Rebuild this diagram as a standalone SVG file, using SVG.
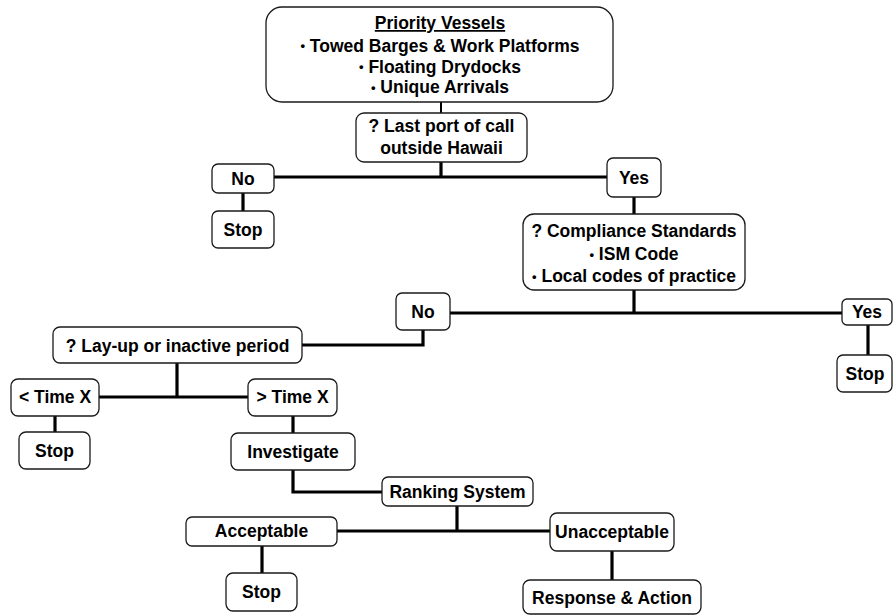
<svg xmlns="http://www.w3.org/2000/svg" width="894" height="615" viewBox="0 0 894 615">
<style>
.n{fill:#fff;stroke:#1a1a1a;stroke-width:1.3}
.t{font-family:"Liberation Sans",Arial,sans-serif;font-weight:bold;font-size:17.5px;fill:#000;text-anchor:middle}
.b{font-size:13px}
.c{fill:none;stroke:#000;stroke-width:3.2}
</style>
<rect width="894" height="615" fill="#fff"/>
<g id="connectors">
<line x1="441" y1="102" x2="441" y2="113" class="c" style="stroke-width:2"/>
<polyline class="c" points="441,162 441,177"/>
<line class="c" x1="274" y1="177" x2="607" y2="177"/>
<line class="c" x1="243" y1="193" x2="243" y2="211"/>
<line class="c" x1="634" y1="197" x2="634" y2="214"/>
<line class="c" x1="634" y1="290" x2="634" y2="313"/>
<line class="c" x1="450" y1="313" x2="842" y2="313"/>
<line class="c" x1="868" y1="325" x2="868" y2="355"/>
<polyline class="c" points="423,330 423,345 302,345"/>
<line class="c" x1="177" y1="363" x2="177" y2="397"/>
<line class="c" x1="99" y1="397" x2="248" y2="397"/>
<line class="c" x1="55" y1="416" x2="55" y2="432"/>
<line class="c" x1="293" y1="416" x2="293" y2="433"/>
<polyline class="c" points="293,470 293,492 382,492"/>
<line class="c" x1="457" y1="506" x2="457" y2="531"/>
<line class="c" x1="337" y1="531" x2="550" y2="531"/>
<line class="c" x1="262" y1="546" x2="262" y2="573"/>
<line class="c" x1="612" y1="551" x2="612" y2="580"/>
</g>
<g id="priority">
<rect class="n" x="266" y="7" width="347" height="95" rx="16"/>
<text class="t" x="440" y="29" text-decoration="underline">Priority Vessels</text>
<text class="t" x="440" y="51.5"><tspan class="b" dy="-1.5">•</tspan><tspan dy="1.5"> Towed Barges &amp; Work Platforms</tspan></text>
<text class="t" x="440" y="72.5"><tspan class="b" dy="-1.5">•</tspan><tspan dy="1.5"> Floating Drydocks</tspan></text>
<text class="t" x="440" y="93"><tspan class="b" dy="-1.5">•</tspan><tspan dy="1.5"> Unique Arrivals</tspan></text>
</g>
<g id="q-lastport">
<rect class="n" x="356" y="113" width="171" height="49" rx="8"/>
<text class="t" x="441.5" y="132">? Last port of call</text>
<text class="t" x="441.5" y="154">outside Hawaii</text>
</g>
<g id="no1">
<rect class="n" x="212" y="164" width="62" height="29" rx="6"/>
<text class="t" x="243" y="185">No</text>
</g>
<g id="stop1">
<rect class="n" x="212" y="211" width="62" height="37" rx="6"/>
<text class="t" x="243" y="236">Stop</text>
</g>
<g id="yes1">
<rect class="n" x="607" y="158" width="54" height="39" rx="6"/>
<text class="t" x="634" y="184">Yes</text>
</g>
<g id="q-compliance">
<rect class="n" x="523" y="214" width="222" height="76" rx="11"/>
<text class="t" x="634" y="237">? Compliance Standards</text>
<text class="t" x="634" y="260"><tspan class="b" dy="-1.5">•</tspan><tspan dy="1.5"> ISM Code</tspan></text>
<text class="t" x="634" y="282"><tspan class="b" dy="-1.5">•</tspan><tspan dy="1.5"> Local codes of practice</tspan></text>
</g>
<g id="no2">
<rect class="n" x="396" y="293" width="54" height="37" rx="6"/>
<text class="t" x="423" y="318">No</text>
</g>
<g id="yes2">
<rect class="n" x="842" y="299" width="50" height="26" rx="5"/>
<text class="t" x="867" y="318">Yes</text>
</g>
<g id="stop2">
<rect class="n" x="837" y="355" width="55" height="37" rx="6"/>
<text class="t" x="865" y="380">Stop</text>
</g>
<g id="q-layup">
<rect class="n" x="53" y="327" width="249" height="36" rx="7"/>
<text class="t" x="177.5" y="352">? Lay-up or inactive period</text>
</g>
<g id="lt-time">
<rect class="n" x="11" y="379" width="88" height="37" rx="7"/>
<text class="t" x="55" y="403">&lt; Time X</text>
</g>
<g id="gt-time">
<rect class="n" x="248" y="379" width="89" height="37" rx="7"/>
<text class="t" x="292.5" y="403">&gt; Time X</text>
</g>
<g id="stop3">
<rect class="n" x="19" y="432" width="71" height="37" rx="7"/>
<text class="t" x="54.5" y="457">Stop</text>
</g>
<g id="investigate">
<rect class="n" x="231" y="433" width="124" height="37" rx="7"/>
<text class="t" x="293" y="458">Investigate</text>
</g>
<g id="ranking">
<rect class="n" x="382" y="477" width="151" height="29" rx="6"/>
<text class="t" x="457.5" y="498">Ranking System</text>
</g>
<g id="acceptable">
<rect class="n" x="186" y="517" width="151" height="29" rx="6"/>
<text class="t" x="261.5" y="537">Acceptable</text>
</g>
<g id="unacceptable">
<rect class="n" x="550" y="513" width="124" height="38" rx="7"/>
<text class="t" x="612" y="538">Unacceptable</text>
</g>
<g id="stop4">
<rect class="n" x="226" y="573" width="71" height="38" rx="7"/>
<text class="t" x="261.5" y="598">Stop</text>
</g>
<g id="response">
<rect class="n" x="523" y="580" width="178" height="34" rx="7"/>
<text class="t" x="612" y="604">Response &amp; Action</text>
</g>
</svg>
